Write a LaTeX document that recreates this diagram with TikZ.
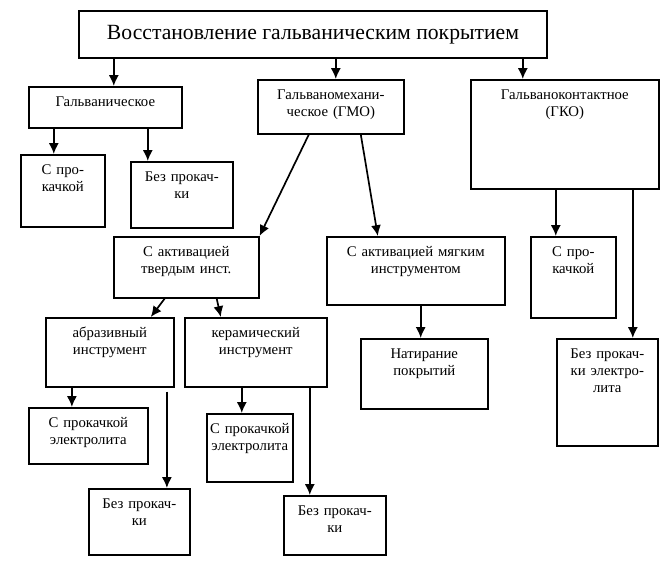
\documentclass[tikz,border=0pt]{standalone}
\usepackage{fontspec}
\setmainfont{Liberation Serif}
\usetikzlibrary{arrows.meta}
\begin{document}
\begin{tikzpicture}[x=0.025cm, y=-0.025cm]
      \tikzstyle{box}=[draw, line width=1.1pt, anchor=north west, align=center,
                       inner xsep=1pt, inner ysep=3pt, text height=11pt,
                       font=\fontsize{10.5}{12}\selectfont]
      \tikzstyle{arrow}=[line width=1.2pt, -{Latex[length=2.7mm, width=2.5mm]}]
      \useasboundingbox (0, 0) rectangle (670, 563);
      \node[draw, line width=1.1pt, minimum width=11.7cm, minimum height=1.175cm,
            font=\fontsize{15.4}{18}\selectfont] (title) at (313, 34.5)
            {Восстановление гальваническим покрытием};
      \node[box, text width=3.755cm, text depth=0.428cm] (galv)   at (28, 86)   {Гальваническое};
      \node[box, text width=3.58cm,  text depth=0.753cm] (gmo)    at (257, 79)  {Гальваномехани-\\ческое (ГМО)};
      \node[box, text width=4.63cm,  text depth=2.128cm] (gko)    at (470, 79)  {Гальваноконтактное\\(ГКО)};
      \node[box, text width=2.03cm,  text depth=1.203cm] (galvA)  at (20, 154)  {С про-\\качкой};
      \node[box, text width=2.48cm,  text depth=1.053cm] (galvB)  at (130, 161) {Без прокач-\\ки};
      \node[box, text width=3.555cm, text depth=0.928cm] (tverd)  at (113, 236) {С активацией\\твердым инст.};
      \node[box, text width=4.38cm,  text depth=1.103cm] (myag)   at (326, 236) {С активацией мягким\\инструментом};
      \node[box, text width=2.055cm, text depth=1.428cm] (gkoA)   at (530, 236) {С про-\\качкой};
      \node[box, text width=2.455cm, text depth=2.078cm] (gkoB)   at (556, 338) {Без прокач-\\ки электро-\\лита};
      \node[box, text width=3.13cm,  text depth=1.128cm] (abraz)  at (45, 317)  {абразивный\\инструмент};
      \node[box, text width=3.48cm,  text depth=1.128cm] (keram)  at (184, 317) {керамический\\инструмент};
      \node[box, text width=3.105cm, text depth=1.153cm] (natir)  at (360, 338) {Натирание\\покрытий};
      \node[box, text width=2.905cm, text depth=0.803cm] (abrazA) at (28, 407)  {С прокачкой\\электролита};
      \node[box, text width=2.455cm, text depth=1.053cm] (abrazB) at (88, 488)  {Без прокач-\\ки};
      \node[box, text width=2.08cm,  text depth=1.103cm] (keramA) at (206, 413) {С прокачкой\\электролита};
      \node[box, text width=2.48cm,  text depth=0.878cm] (keramB) at (283, 495) {Без прокач-\\ки};
      \draw[arrow] ([xshift=0.2125cm]galv.north |- title.south) -- ([xshift=0.2125cm]galv.north);
      \draw[arrow] ([xshift=0.125cm]gmo.north |- title.south) -- ([xshift=0.125cm]gmo.north);
      \draw[arrow] ([xshift=-1.05cm]gko.north |- title.south) -- ([xshift=-1.05cm]gko.north);
      \draw[arrow] ([xshift=-0.225cm]galvA.north |- galv.south) -- ([xshift=-0.225cm]galvA.north);
      \draw[arrow] ([xshift=-0.85cm]galvB.north |- galv.south) -- ([xshift=-0.85cm]galvB.north);
      \draw[arrow] ([xshift=-0.55cm]gmo.south) -- (tverd.north east);
      \draw[arrow] ([xshift=0.75cm]gmo.south) -- ([xshift=-0.95cm]myag.north);
      \draw[arrow] ([xshift=-0.4375cm]gkoA.north |- gko.south) -- ([xshift=-0.4375cm]gkoA.north);
      \draw[arrow] ([xshift=0.6375cm]gkoB.north |- gko.south) -- ([xshift=0.6375cm]gkoB.north);
      \draw[arrow] ([xshift=-0.54cm]tverd.south) -- ([xshift=1.025cm]abraz.north);
      \draw[arrow] ([xshift=0.76cm]tverd.south) -- ([xshift=-0.875cm]keram.north);
      \draw[arrow] ([xshift=-0.09cm]natir.north |- myag.south) -- ([xshift=-0.09cm]natir.north);
      \draw[arrow] ([xshift=-0.41cm]abrazA.north |- abraz.south) -- ([xshift=-0.41cm]abrazA.north);
      \draw[arrow, shorten <=0.1cm] ([xshift=0.69cm]abrazB.north |- abraz.south) -- ([xshift=0.69cm]abrazB.north);
      \draw[arrow] ([xshift=-0.2cm]keramA.north |- keram.south) -- ([xshift=-0.2cm]keramA.north);
      \draw[arrow] ([xshift=-0.625cm]keramB.north |- keram.south) -- ([xshift=-0.625cm]keramB.north);
\end{tikzpicture}
\end{document}
